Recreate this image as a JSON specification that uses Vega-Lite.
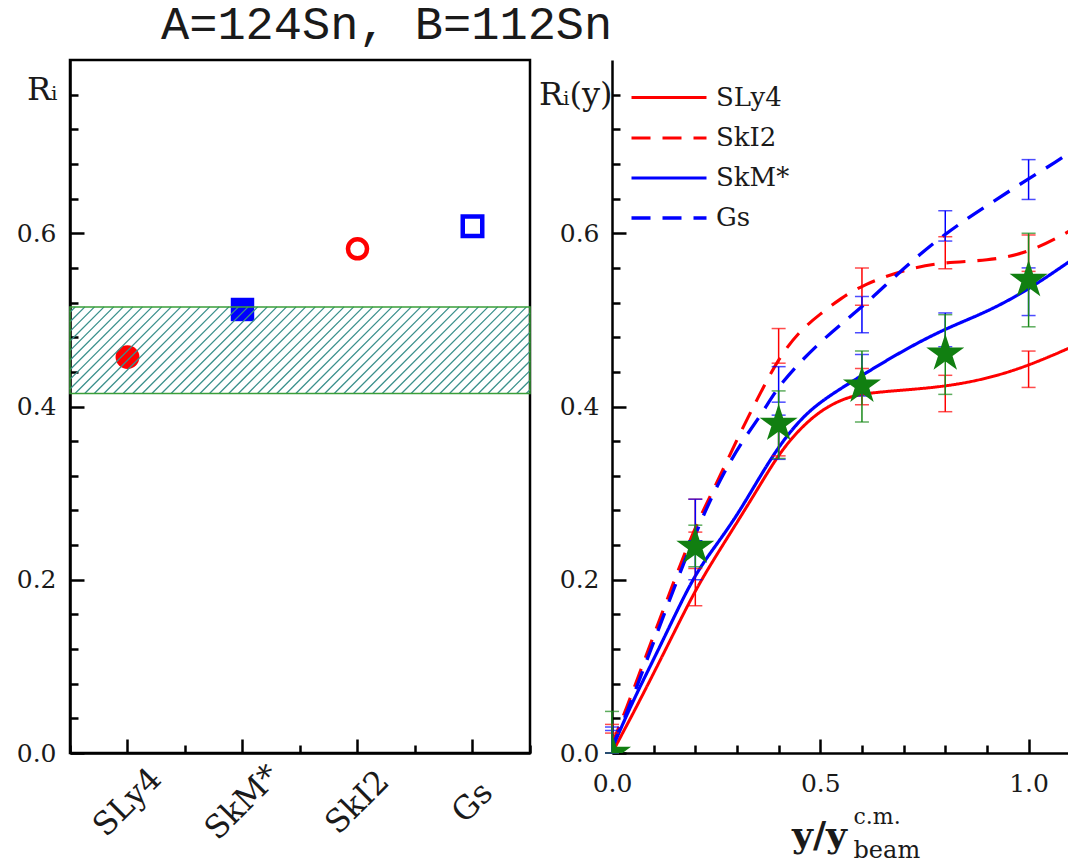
{
  "$schema": "https://vega.github.io/schema/vega-lite/v6.json",
  "background": "white",
  "padding": {"left": 14, "top": 0, "right": 0, "bottom": 0},
  "title": {"text": "A=124Sn, B=112Sn", "font": "Liberation Mono", "fontSize": 47, "fontWeight": "normal", "color": "#1a1a1a", "anchor": "start", "dx": 146, "offset": 10},
  "spacing": 4,
  "config": {
    "view": {"stroke": "black", "strokeWidth": 2.5},
    "axis": {"grid": false, "labelFlush": false, "domainColor": "black", "domainWidth": 2.5, "tickColor": "black", "tickWidth": 2.5, "labelFont": "DejaVu Serif", "labelFontSize": 25, "labelColor": "#1a1a1a", "titleFont": "DejaVu Serif", "titleColor": "#1a1a1a", "titleFontWeight": "normal"}
  },
  "datasets": {
    "ri": [
      {"model": "SLy4", "Ri": 0.457},
      {"model": "SkM*", "Ri": 0.512},
      {"model": "SkI2", "Ri": 0.582},
      {"model": "Gs", "Ri": 0.608}
    ],
    "band": [{"low": 0.415, "high": 0.515}],
    "curves": [
      {"model": "SLy4", "x": 0, "R": 0.0}, {"model": "SLy4", "x": 0.05, "R": 0.045}, {"model": "SLy4", "x": 0.1, "R": 0.092}, {"model": "SLy4", "x": 0.15, "R": 0.14}, {"model": "SLy4", "x": 0.2, "R": 0.188}, {"model": "SLy4", "x": 0.25, "R": 0.228}, {"model": "SLy4", "x": 0.3, "R": 0.266}, {"model": "SLy4", "x": 0.35, "R": 0.305}, {"model": "SLy4", "x": 0.4, "R": 0.345}, {"model": "SLy4", "x": 0.45, "R": 0.374}, {"model": "SLy4", "x": 0.5, "R": 0.395}, {"model": "SLy4", "x": 0.55, "R": 0.408}, {"model": "SLy4", "x": 0.6, "R": 0.415}, {"model": "SLy4", "x": 0.7, "R": 0.419}, {"model": "SLy4", "x": 0.8, "R": 0.423}, {"model": "SLy4", "x": 0.9, "R": 0.432}, {"model": "SLy4", "x": 1.0, "R": 0.447}, {"model": "SLy4", "x": 1.1, "R": 0.468},
      {"model": "SkI2", "x": 0, "R": 0.01}, {"model": "SkI2", "x": 0.035, "R": 0.052}, {"model": "SkI2", "x": 0.077, "R": 0.106}, {"model": "SkI2", "x": 0.15, "R": 0.2}, {"model": "SkI2", "x": 0.2, "R": 0.262}, {"model": "SkI2", "x": 0.25, "R": 0.31}, {"model": "SkI2", "x": 0.3, "R": 0.362}, {"model": "SkI2", "x": 0.35, "R": 0.41}, {"model": "SkI2", "x": 0.4, "R": 0.456}, {"model": "SkI2", "x": 0.45, "R": 0.487}, {"model": "SkI2", "x": 0.5, "R": 0.507}, {"model": "SkI2", "x": 0.55, "R": 0.525}, {"model": "SkI2", "x": 0.6, "R": 0.54}, {"model": "SkI2", "x": 0.7, "R": 0.558}, {"model": "SkI2", "x": 0.8, "R": 0.567}, {"model": "SkI2", "x": 0.9, "R": 0.568}, {"model": "SkI2", "x": 1.0, "R": 0.577}, {"model": "SkI2", "x": 1.1, "R": 0.603},
      {"model": "SkM*", "x": 0, "R": 0.005}, {"model": "SkM*", "x": 0.05, "R": 0.06}, {"model": "SkM*", "x": 0.1, "R": 0.108}, {"model": "SkM*", "x": 0.15, "R": 0.158}, {"model": "SkM*", "x": 0.2, "R": 0.207}, {"model": "SkM*", "x": 0.25, "R": 0.24}, {"model": "SkM*", "x": 0.3, "R": 0.274}, {"model": "SkM*", "x": 0.35, "R": 0.315}, {"model": "SkM*", "x": 0.4, "R": 0.354}, {"model": "SkM*", "x": 0.45, "R": 0.384}, {"model": "SkM*", "x": 0.5, "R": 0.406}, {"model": "SkM*", "x": 0.6, "R": 0.436}, {"model": "SkM*", "x": 0.7, "R": 0.465}, {"model": "SkM*", "x": 0.8, "R": 0.49}, {"model": "SkM*", "x": 0.9, "R": 0.509}, {"model": "SkM*", "x": 1.0, "R": 0.535}, {"model": "SkM*", "x": 1.1, "R": 0.568},
      {"model": "Gs", "x": 0, "R": 0.008}, {"model": "Gs", "x": 0.023, "R": 0.03}, {"model": "Gs", "x": 0.1, "R": 0.128}, {"model": "Gs", "x": 0.158, "R": 0.202}, {"model": "Gs", "x": 0.216, "R": 0.272}, {"model": "Gs", "x": 0.266, "R": 0.322}, {"model": "Gs", "x": 0.315, "R": 0.362}, {"model": "Gs", "x": 0.365, "R": 0.395}, {"model": "Gs", "x": 0.4, "R": 0.425}, {"model": "Gs", "x": 0.5, "R": 0.476}, {"model": "Gs", "x": 0.6, "R": 0.514}, {"model": "Gs", "x": 0.7, "R": 0.56}, {"model": "Gs", "x": 0.8, "R": 0.6}, {"model": "Gs", "x": 0.9, "R": 0.632}, {"model": "Gs", "x": 1.0, "R": 0.663}, {"model": "Gs", "x": 1.065, "R": 0.682}, {"model": "Gs", "x": 1.12, "R": 0.7}
    ],
    "bars": [
      {"model": "SLy4", "x": 0, "low": 0, "high": 0.023}, {"model": "SLy4", "x": 0.2, "low": 0.17, "high": 0.213}, {"model": "SLy4", "x": 0.4, "low": 0.343, "high": 0.385}, {"model": "SLy4", "x": 0.6, "low": 0.402, "high": 0.444}, {"model": "SLy4", "x": 0.8, "low": 0.394, "high": 0.436}, {"model": "SLy4", "x": 1.0, "low": 0.422, "high": 0.464},
      {"model": "SkI2", "x": 0, "low": 0, "high": 0.033}, {"model": "SkI2", "x": 0.2, "low": 0.255, "high": 0.293}, {"model": "SkI2", "x": 0.4, "low": 0.45, "high": 0.49}, {"model": "SkI2", "x": 0.6, "low": 0.517, "high": 0.56}, {"model": "SkI2", "x": 0.8, "low": 0.559, "high": 0.596}, {"model": "SkI2", "x": 1.0, "low": 0.556, "high": 0.598},
      {"model": "SkM*", "x": 0, "low": 0, "high": 0.026}, {"model": "SkM*", "x": 0.2, "low": 0.2, "high": 0.245}, {"model": "SkM*", "x": 0.4, "low": 0.339, "high": 0.39}, {"model": "SkM*", "x": 0.6, "low": 0.412, "high": 0.46}, {"model": "SkM*", "x": 0.8, "low": 0.469, "high": 0.508}, {"model": "SkM*", "x": 1.0, "low": 0.505, "high": 0.56},
      {"model": "Gs", "x": 0, "low": 0, "high": 0.03}, {"model": "Gs", "x": 0.2, "low": 0.245, "high": 0.293}, {"model": "Gs", "x": 0.4, "low": 0.405, "high": 0.446}, {"model": "Gs", "x": 0.6, "low": 0.485, "high": 0.527}, {"model": "Gs", "x": 0.8, "low": 0.591, "high": 0.626}, {"model": "Gs", "x": 1.0, "low": 0.639, "high": 0.685}
    ],
    "exp": [
      {"x": 0, "R": 0.0, "low": 0, "high": 0.048},
      {"x": 0.2, "R": 0.238, "low": 0.215, "high": 0.263},
      {"x": 0.4, "R": 0.38, "low": 0.34, "high": 0.418},
      {"x": 0.6, "R": 0.424, "low": 0.382, "high": 0.464},
      {"x": 0.8, "R": 0.461, "low": 0.414, "high": 0.506},
      {"x": 1.0, "R": 0.546, "low": 0.492, "high": 0.6}
    ]
  },
  "hconcat": [
    {
      "width": 460,
      "height": 693,
      "layer": [
        {
          "data": {"name": "ri"},
          "transform": [{"filter": "datum.model === 'SLy4'"}],
          "mark": {"type": "point", "shape": "circle", "filled": true, "color": "#ff0000", "opacity": 1, "size": 570},
          "encoding": {
            "x": {"field": "model", "type": "nominal", "scale": {"type": "band", "domain": ["SLy4", "SkM*", "SkI2", "Gs"], "paddingInner": 0, "paddingOuter": 0},
                  "axis": {"orient": "bottom", "title": null, "tickSize": -14, "labelAngle": -45, "labelAlign": "center", "labelBaseline": "middle", "labelPadding": 63, "labelOffset": 0, "labelFontSize": 32}},
            "y": {"field": "Ri", "type": "quantitative", "scale": {"domain": [0, 0.8], "nice": false},
                  "axis": {"orient": "left", "values": [0, 0.2, 0.4, 0.6], "format": ".1f", "tickSize": -14, "labelPadding": 28, "title": "Rᵢ", "titleAngle": 0, "titleAlign": "right", "titleBaseline": "alphabetic", "titleX": -13, "titleY": 39, "titleFontSize": 32}}
          }
        },
        {
          "data": {"name": "ri"},
          "transform": [{"filter": "datum.model === 'SkM*'"}],
          "mark": {"type": "point", "shape": "square", "filled": true, "color": "#0000ff", "opacity": 1, "size": 550},
          "encoding": {
            "x": {"field": "model", "type": "nominal", "scale": {"type": "band", "domain": ["SLy4", "SkM*", "SkI2", "Gs"], "paddingInner": 0, "paddingOuter": 0}, "axis": null},
            "y": {"field": "Ri", "type": "quantitative", "scale": {"domain": [0, 0.8], "nice": false}, "axis": null}
          }
        },
        {
          "data": {"name": "ri"},
          "transform": [{"filter": "datum.model === 'SkI2'"}],
          "mark": {"type": "point", "shape": "circle", "filled": false, "color": "#ff0000", "opacity": 1, "size": 363, "strokeWidth": 4.5},
          "encoding": {
            "x": {"field": "model", "type": "nominal", "scale": {"type": "band", "domain": ["SLy4", "SkM*", "SkI2", "Gs"], "paddingInner": 0, "paddingOuter": 0}, "axis": null},
            "y": {"field": "Ri", "type": "quantitative", "scale": {"domain": [0, 0.8], "nice": false}, "axis": null}
          }
        },
        {
          "data": {"name": "ri"},
          "transform": [{"filter": "datum.model === 'Gs'"}],
          "mark": {"type": "point", "shape": "square", "filled": false, "color": "#0000ff", "opacity": 1, "size": 380, "strokeWidth": 4.5},
          "encoding": {
            "x": {"field": "model", "type": "nominal", "scale": {"type": "band", "domain": ["SLy4", "SkM*", "SkI2", "Gs"], "paddingInner": 0, "paddingOuter": 0}, "axis": null},
            "y": {"field": "Ri", "type": "quantitative", "scale": {"domain": [0, 0.8], "nice": false}, "axis": null}
          }
        },
        {
          "data": {"name": "band"},
          "mark": {"type": "point", "filled": false, "opacity": 1, "color": "#3b908c", "strokeWidth": 1.3, "size": 4,
                   "shape": "M-230,-81.3L-224.7,-86.6M-230,-71.7L-215.1,-86.6M-230,-62.1L-205.5,-86.6M-230,-52.5L-195.9,-86.6M-230,-42.9L-186.3,-86.6M-230,-33.3L-176.7,-86.6M-230,-23.7L-167.1,-86.6M-230,-14.1L-157.5,-86.6M-230,-4.5L-147.9,-86.6M-224.9,0L-138.3,-86.6M-215.3,0L-128.7,-86.6M-205.7,0L-119.1,-86.6M-196.1,0L-109.5,-86.6M-186.5,0L-99.9,-86.6M-176.9,0L-90.3,-86.6M-167.3,0L-80.7,-86.6M-157.7,0L-71.1,-86.6M-148.1,0L-61.5,-86.6M-138.5,0L-51.9,-86.6M-128.9,0L-42.3,-86.6M-119.3,0L-32.7,-86.6M-109.7,0L-23.1,-86.6M-100.1,0L-13.5,-86.6M-90.5,0L-3.9,-86.6M-80.9,0L5.7,-86.6M-71.3,0L15.3,-86.6M-61.7,0L24.9,-86.6M-52.1,0L34.5,-86.6M-42.5,0L44.1,-86.6M-32.9,0L53.7,-86.6M-23.3,0L63.3,-86.6M-13.7,0L72.9,-86.6M-4.1,0L82.5,-86.6M5.5,0L92.1,-86.6M15.1,0L101.7,-86.6M24.7,0L111.3,-86.6M34.3,0L120.9,-86.6M43.9,0L130.5,-86.6M53.5,0L140.1,-86.6M63.1,0L149.7,-86.6M72.7,0L159.3,-86.6M82.3,0L168.9,-86.6M91.9,0L178.5,-86.6M101.5,0L188.1,-86.6M111.1,0L197.7,-86.6M120.7,0L207.3,-86.6M130.3,0L216.9,-86.6M139.9,0L226.5,-86.6M149.5,0L230,-80.5M159.1,0L230,-70.9M168.7,0L230,-61.3M178.3,0L230,-51.7M187.9,0L230,-42.1M197.5,0L230,-32.5M207.1,0L230,-22.9M216.7,0L230,-13.3M226.3,0L230,-3.7"},
          "encoding": {
            "y": {"field": "low", "type": "quantitative", "scale": {"domain": [0, 0.8], "nice": false}, "axis": null}
          }
        },
        {
          "data": {"name": "band"},
          "mark": {"type": "rect", "fillOpacity": 0, "stroke": "#3a9e3a", "strokeWidth": 1.5},
          "encoding": {
            "y": {"field": "low", "type": "quantitative", "scale": {"domain": [0, 0.8], "nice": false},
                  "axis": {"orient": "left", "values": [0.04, 0.08, 0.12, 0.16, 0.24, 0.28, 0.32, 0.36, 0.44, 0.48, 0.52, 0.56, 0.64, 0.68, 0.72, 0.76], "tickSize": -8, "labels": false, "domain": false, "title": null}},
            "y2": {"field": "high"}
          }
        },
        {
          "mark": {"type": "text", "text": "b = 6fm", "font": "DejaVu Serif", "fontSize": 31, "align": "center", "baseline": "alphabetic", "color": "#1a1a1a", "dx": 26},
          "encoding": {
            "x": {"datum": "SkM*", "type": "nominal", "scale": {"type": "band", "domain": ["SLy4", "SkM*", "SkI2", "Gs"], "paddingInner": 0, "paddingOuter": 0},
                  "axis": {"orient": "bottom", "tickBand": "extent", "tickSize": -8, "labels": false, "domain": false, "title": null}},
            "y": {"datum": 0.045, "type": "quantitative", "scale": {"domain": [0, 0.8], "nice": false}, "axis": null}
          }
        }
      ],
      "resolve": {"axis": {"x": "independent", "y": "independent"}}
    },
    {
      "width": 457,
      "height": 693,
      "view": {"stroke": null},
      "layer": [
        {
          "data": {"name": "curves"},
          "mark": {"type": "line", "clip": true, "interpolate": "basis"},
          "encoding": {
            "x": {"field": "x", "type": "quantitative", "scale": {"domain": [0, 1.097], "nice": false, "zero": false},
                  "axis": {"orient": "bottom", "values": [0, 0.5, 1.0], "format": ".1f", "tickSize": -14, "labelPadding": 32, "title": "y/y", "titleFont": "DejaVu Serif", "titleFontWeight": "bold", "titleFontSize": 36, "titleX": 207, "titleY": 93, "titleAlign": "center", "titleBaseline": "alphabetic"}},
            "y": {"field": "R", "type": "quantitative", "scale": {"domain": [0, 0.8], "nice": false},
                  "axis": {"orient": "left", "values": [0, 0.2, 0.4, 0.6], "format": ".1f", "tickSize": -14, "labelPadding": 27, "title": "Rᵢ(y)", "titleAngle": 0, "titleAlign": "right", "titleBaseline": "alphabetic", "titleX": 0, "titleY": 44, "titleFontSize": 32}},
            "color": {"field": "model", "type": "nominal", "scale": {"domain": ["SLy4", "SkI2", "SkM*", "Gs"], "range": ["#ff0000", "#ff0000", "#0000ff", "#0000ff"]},
                      "legend": {"title": null, "orient": "none", "legendX": 572, "legendY": 11, "symbolType": "M-1.5,0L1.5,0", "symbolSize": 2500, "symbolStrokeWidth": 3.5, "labelFont": "DejaVu Serif", "labelFontSize": 26, "labelColor": "#1a1a1a", "labelOffset": 20, "rowPadding": 0}},
            "strokeDash": {"field": "model", "type": "nominal", "scale": {"domain": ["SLy4", "SkI2", "SkM*", "Gs"], "range": [[1, 0], [19, 12], [1, 0], [19, 12]]},
                      "legend": {"title": null, "orient": "none", "legendX": 572, "legendY": 11, "symbolType": "M-1.5,0L1.5,0", "symbolSize": 2500, "symbolStrokeWidth": 3.5, "labelFont": "DejaVu Serif", "labelFontSize": 26, "labelColor": "#1a1a1a", "labelOffset": 20, "rowPadding": 0}},
            "strokeWidth": {"field": "model", "type": "ordinal", "scale": {"domain": ["SLy4", "SkI2", "SkM*", "Gs"], "range": [3, 3.3, 4.2, 3.5]}, "legend": null}
          }
        },
        {
          "data": {"name": "bars"},
          "mark": {"type": "errorbar", "ticks": true, "size": 14, "thickness": 1.5},
          "encoding": {
            "x": {"field": "x", "type": "quantitative", "scale": {"domain": [0, 1.097], "nice": false, "zero": false}, "axis": null},
            "y": {"field": "low", "type": "quantitative", "scale": {"domain": [0, 0.8], "nice": false}, "axis": null},
            "y2": {"field": "high"},
            "color": {"field": "model", "type": "nominal", "scale": {"domain": ["SLy4", "SkI2", "SkM*", "Gs"], "range": ["#ff0000", "#ff0000", "#0000ff", "#0000ff"]}, "legend": null}
          }
        },
        {
          "data": {"name": "exp"},
          "mark": {"type": "errorbar", "ticks": true, "size": 14, "thickness": 1.5, "color": "#1a8a1a"},
          "encoding": {
            "x": {"field": "x", "type": "quantitative", "scale": {"domain": [0, 1.097], "nice": false, "zero": false}, "axis": null},
            "y": {"field": "low", "type": "quantitative", "scale": {"domain": [0, 0.8], "nice": false}, "axis": null},
            "y2": {"field": "high"}
          }
        },
        {
          "data": {"name": "exp"},
          "mark": {"type": "point", "clip": true, "filled": true, "opacity": 1, "color": "#117f11", "size": 1600,
                   "shape": "M0,-1L0.2245,-0.309L0.951,-0.309L0.363,0.118L0.588,0.809L0,0.382L-0.588,0.809L-0.363,0.118L-0.951,-0.309L-0.2245,-0.309Z"},
          "encoding": {
            "x": {"field": "x", "type": "quantitative", "scale": {"domain": [0, 1.097], "nice": false, "zero": false},
                  "axis": {"orient": "bottom", "values": [0.1, 0.2, 0.3, 0.4, 0.6, 0.7, 0.8, 0.9, 1.1], "tickSize": -8, "labels": false, "domain": false, "title": "c.m.", "titleFont": "DejaVu Serif", "titleFontSize": 22, "titleAlign": "left", "titleBaseline": "alphabetic", "titleX": 241, "titleY": 70}},
            "y": {"field": "R", "type": "quantitative", "scale": {"domain": [0, 0.8], "nice": false},
                  "axis": {"orient": "left", "values": [0.04, 0.08, 0.12, 0.16, 0.24, 0.28, 0.32, 0.36, 0.44, 0.48, 0.52, 0.56, 0.64, 0.68, 0.72, 0.76], "tickSize": -8, "labels": false, "domain": false, "title": null}}
          }
        },
        {
          "mark": {"type": "rule", "color": "black", "strokeWidth": 2.5},
          "encoding": {"y": {"datum": 0.8, "type": "quantitative", "scale": {"domain": [0, 0.8], "nice": false}, "axis": null}}
        },
        {
          "mark": {"type": "text", "text": "b = 6fm", "font": "DejaVu Serif", "fontSize": 31, "align": "center", "baseline": "alphabetic", "color": "#1a1a1a"},
          "encoding": {
            "x": {"datum": 0.444, "type": "quantitative", "scale": {"domain": [0, 1.097], "nice": false, "zero": false},
                  "axis": {"orient": "bottom", "ticks": false, "labels": false, "domain": false, "title": "beam", "titleFont": "DejaVu Serif", "titleFontSize": 24, "titleAlign": "left", "titleBaseline": "alphabetic", "titleX": 241, "titleY": 104}},
            "y": {"datum": 0.045, "type": "quantitative", "scale": {"domain": [0, 0.8], "nice": false}, "axis": null}
          }
        }
      ],
      "resolve": {"axis": {"x": "independent", "y": "independent"}}
    }
  ]
}
